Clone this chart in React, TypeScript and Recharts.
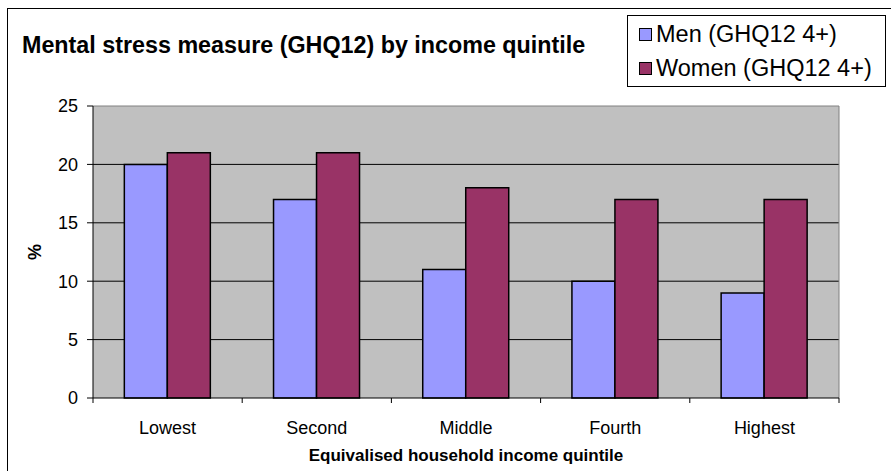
import { BarChart, Bar, XAxis, YAxis, CartesianGrid, Legend } from 'recharts'

const categories = ['Lowest', 'Second', 'Middle', 'Fourth', 'Highest']
const menValues = [20, 17, 11, 10, 9]
const womenValues = [21, 21, 18, 17, 17]
const yTicks = [0, 5, 10, 15, 20, 25]
const seriesNames = ['Men (GHQ12 4+)', 'Women (GHQ12 4+)']

const data = categories.map((q, i) => ({ quintile: q, men: menValues[i], women: womenValues[i] }))

const FONT = '"Liberation Sans", Arial, sans-serif'
const W = 891
const H = 471
const margin = { top: 106, right: 52, bottom: 0, left: 0 }
const yAxisWidth = 93
const plotWidth = W - margin.right - yAxisWidth

function XTick(props: any) {
  const { x, y, payload, index } = props
  const half = plotWidth / categories.length / 2
  return (
    <g>
      <line x1={x - half} x2={x - half} y1={y} y2={y + 5} stroke="#000" />
      {index === categories.length - 1 && <line x1={x + half} x2={x + half} y1={y} y2={y + 5} stroke="#000" />}
      <text x={x} y={y + 23} dy="0.71em" textAnchor="middle" fontSize={18} fill="#000" fontFamily={FONT}>
        {payload.value}
      </text>
    </g>
  )
}

function LegendBox(props: any) {
  const items = props.payload || []
  return (
    <div
      style={{
        width: 259,
        height: 72,
        border: '1px solid #000',
        background: '#fff',
        fontFamily: FONT,
        fontSize: 23.5,
        color: '#000',
        paddingTop: 1,
        boxSizing: 'border-box',
        boxShadow: 'none',
      }}
    >
      {items.map((it: any) => (
        <div key={it.value} style={{ display: 'flex', alignItems: 'center', height: 34, paddingLeft: 11, whiteSpace: 'nowrap' }}>
          <span style={{ width: 11, height: 11, background: it.color, border: '1px solid #000', marginRight: 4, flexShrink: 0 }} />
          <span>{it.value}</span>
        </div>
      ))}
    </div>
  )
}

function YLabel(props: any) {
  const vb = props.viewBox || {}
  const cy = (vb.y ?? margin.top) + (vb.height ?? 292) / 2
  return (
    <text
      transform={`translate(35,${cy}) rotate(-90)`}
      textAnchor="middle"
      dy="0.35em"
      fontSize={18}
      fontWeight="bold"
      fontFamily={FONT}
      fill="#000"
    >
      %
    </text>
  )
}

export default function App() {
  return (
    <div style={{ position: 'absolute', left: 0, top: 0, width: W, height: H, background: '#fff', overflow: 'hidden' }}>
      <div
        style={{
          position: 'absolute',
          left: 7,
          top: 8,
          width: W,
          height: H,
          borderLeft: '1px solid #000',
          borderTop: '1px solid #000',
        }}
      />
      <svg width={W} height={H} style={{ position: 'absolute', left: 0, top: 0 }}>
        <text x={22} y={53} fontSize={23.3} fontWeight="bold" fontFamily={FONT} fill="#000">
          Mental stress measure (GHQ12) by income quintile
        </text>
      </svg>
      <div style={{ position: 'absolute', left: 0, top: 0 }}>
        <BarChart width={W} height={H} data={data} margin={margin} barCategoryGap="21%" barGap={0}>
          <CartesianGrid fill="#C0C0C0" stroke="#000" vertical={false} horizontalValues={[5, 10, 15, 20]} />
          <CartesianGrid
            fill="none"
            stroke="#808080"
            horizontalValues={[25]}
            verticalCoordinatesGenerator={(p: any) => [p && p.offset ? p.offset.left + p.offset.width : W - margin.right]}
          />
          <XAxis
            dataKey="quintile"
            height={73}
            tickLine={false}
            tickSize={0}
            tickMargin={0}
            tick={<XTick />}
            axisLine={{ stroke: '#000' }}
            label={{
              value: 'Equivalised household income quintile',
              position: 'insideBottom',
              offset: 10,
              style: { fontSize: 17, fontWeight: 'bold', fontFamily: FONT, fill: '#000' },
            }}
          />
          <YAxis
            width={yAxisWidth}
            domain={[0, 25]}
            ticks={yTicks}
            interval={0}
            tickSize={6}
            tickMargin={9}
            axisLine={{ stroke: '#000' }}
            tickLine={{ stroke: '#000' }}
            tick={{ fontSize: 18, fill: '#000', fontFamily: FONT }}
            label={<YLabel />}
          />
          <Legend
            layout="vertical"
            verticalAlign="middle"
            align="center"
            content={<LegendBox />}
            wrapperStyle={{ position: 'absolute', left: 627, top: 15, width: 261, height: 74 }}
          />
          <Bar dataKey="men" name={seriesNames[0]} fill="#9999FF" stroke="#000" strokeWidth={1.5} isAnimationActive={false} />
          <Bar dataKey="women" name={seriesNames[1]} fill="#993366" stroke="#000" strokeWidth={1.5} isAnimationActive={false} />
        </BarChart>
      </div>
    </div>
  )
}
